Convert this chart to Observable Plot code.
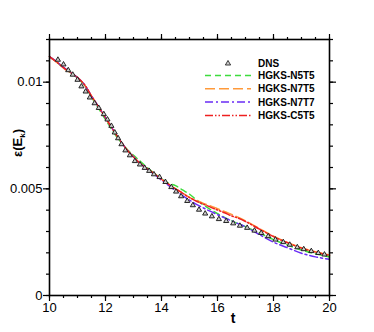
<!DOCTYPE html>
<html><head><meta charset="utf-8">
<script src="https://cdn.jsdelivr.net/npm/d3@7"></script>
<script src="https://cdn.jsdelivr.net/npm/@observablehq/plot@0.6"></script>
<style>
body{margin:0;background:#fff;}
#c{position:relative;width:374px;height:332px;font-family:"Liberation Sans",Arial,sans-serif;}
#c svg{display:block}
</style></head><body><div id="c"></div>
<script>
// DNS reference points
const dnsT = [10.3,10.5,10.67,10.83,11.0,11.14,11.29,11.44,11.61,11.76,11.94,12.07,12.21,12.33,12.45,12.57,12.71,12.87,13.05,13.23,13.4,13.56,13.73,13.93,14.14,14.35,14.52,14.7,14.92,15.12,15.34,15.56,15.8,16.05,16.31,16.56,16.8,17.06,17.32,17.56,17.81,18.07,18.35,18.58,18.85,19.08,19.35,19.6,19.82];
const dnsE = [0.01105,0.01083,0.01056,0.01035,0.01011,0.0098,0.00956,0.00928,0.00901,0.00879,0.0085,0.00825,0.00795,0.00764,0.00737,0.00709,0.0068,0.00657,0.0063,0.00614,0.00598,0.00584,0.00568,0.00555,0.00532,0.00508,0.00487,0.00465,0.00443,0.00423,0.00402,0.00384,0.00371,0.00358,0.00349,0.00338,0.00327,0.00317,0.00304,0.00293,0.00278,0.00262,0.0025,0.00238,0.00226,0.00217,0.00208,0.00199,0.00192];

// HGKS curves sampled at these times
const tGrid = [10,10.25,10.5,10.75,11,11.25,11.5,11.75,12,12.25,12.5,12.75,13,13.25,13.5,13.75,14,14.25,14.5,14.75,15,15.25,15.5,15.75,16,16.25,16.5,16.75,17,17.5,18,18.5,19,19.5,20];
const n5t5 = [0.0112,0.01095,0.01068,0.01045,0.0102,0.00985,0.0093,0.00877,0.00825,0.00772,0.00727,0.00688,0.00657,0.00628,0.00598,0.00572,0.00547,0.00526,0.00515,0.00495,0.00475,0.00448,0.00425,0.00403,0.00384,0.00366,0.0035,0.00336,0.00322,0.00293,0.00262,0.00237,0.00213,0.00196,0.0018];
const n7t5 = [0.0112,0.01094,0.01066,0.01044,0.01022,0.00988,0.00935,0.00885,0.00833,0.00781,0.00731,0.00686,0.0065,0.00618,0.00593,0.0057,0.00545,0.00522,0.005,0.0048,0.0046,0.00445,0.00432,0.0042,0.00407,0.00394,0.0038,0.00366,0.0035,0.00314,0.00278,0.00249,0.00224,0.00205,0.0019];
const n7t7 = [0.0112,0.01097,0.01069,0.01046,0.01022,0.00988,0.00935,0.00885,0.00833,0.00781,0.00731,0.00686,0.0065,0.00618,0.00592,0.00567,0.00541,0.00516,0.00492,0.00468,0.00447,0.00427,0.0041,0.00394,0.00379,0.00364,0.0035,0.00336,0.00322,0.00285,0.0025,0.00224,0.00198,0.00181,0.0017];
const c5t5 = [0.0112,0.01095,0.01068,0.01045,0.01022,0.00988,0.00935,0.00885,0.00833,0.00781,0.00731,0.00686,0.0065,0.00618,0.00593,0.0057,0.00545,0.00522,0.005,0.0048,0.00459,0.00442,0.00428,0.00414,0.00401,0.00388,0.00373,0.00362,0.00347,0.00311,0.00276,0.00247,0.00222,0.00203,0.00188];

const seriesNames = ["HGKS-N5T5","HGKS-N7T5","HGKS-N7T7","HGKS-C5T5"];
const seriesColors = ["#3ddc3d","#ff9a3a","#6a2cf5","#ee2020"];
const seriesDash = ["6,4","10,4","8,3,2,3","8,2,1.5,2,1.5,2"];
const seriesVals = [n5t5,n7t5,n7t7,c5t5];

const xMajor = [10,12,14,16,18,20];
const xMinor = d3.range(10,20.01,0.5);
const yMajor = [0,0.005,0.01];
const yMinor = d3.range(0,0.01201,0.001);

const dns = dnsT.map((t,i)=>({t,e:dnsE[i]}));
const lines = seriesVals.map((vals,k)=>Plot.line(tGrid.map((t,i)=>({t,e:vals[i]})),{
  x:"t",y:"e",stroke:seriesColors[k],strokeWidth:1.5,strokeDasharray:seriesDash[k],curve:"catmull-rom"}));

const fmtY = d => d===0 ? "0" : String(+d.toFixed(3));
const chart = Plot.plot({
  width:374,height:332,
  marginLeft:49,marginRight:45,marginTop:39,marginBottom:37,
  style:{fontFamily:"'Liberation Sans',Arial,sans-serif",fontSize:"13px",color:"#000",background:"#fff"},
  x:{domain:[10,20]},
  y:{domain:[0,0.012]},
  marks:[
    ...lines,
    Plot.dot(dns,{x:"t",y:"e",symbol:"triangle",r:1.9,stroke:"#111",fill:"#ccc",strokeWidth:0.9}),
    Plot.axisX({anchor:"bottom",ticks:xMinor,tickSize:3,text:null,label:null,strokeWidth:1.2}),
    Plot.axisX({anchor:"bottom",ticks:xMajor,tickSize:6,tickPadding:1,tickFormat:d=>String(d),label:null,strokeWidth:1.2}),
    Plot.axisX({anchor:"top",ticks:xMinor,tickSize:3,text:null,label:null,strokeWidth:1.2}),
    Plot.axisX({anchor:"top",ticks:xMajor,tickSize:6,text:null,label:null,strokeWidth:1.2}),
    Plot.axisY({anchor:"left",ticks:yMinor,tickSize:3,text:null,label:null,strokeWidth:1.2}),
    Plot.axisY({anchor:"left",ticks:yMajor,tickSize:6,tickPadding:1,tickFormat:fmtY,label:null,strokeWidth:1.2}),
    Plot.axisY({anchor:"right",ticks:yMinor,tickSize:3,text:null,label:null,strokeWidth:1.2}),
    Plot.axisY({anchor:"right",ticks:yMajor,tickSize:6,text:null,label:null,strokeWidth:1.2}),
    Plot.frame({stroke:"#000",strokeWidth:1.6})
  ]
});
document.getElementById("c").appendChild(chart);

const s = d3.select(chart);
s.append("text").attr("x",233).attr("y",323).style("text-anchor","middle")
 .style("font-weight","bold").style("font-size","14px").attr("fill","#000").text("t");
const yl = s.append("text").attr("transform","translate(22,143) rotate(-90)").style("text-anchor","middle")
 .style("font-weight","bold").style("font-size","13px").attr("fill","#000");
yl.append("tspan").text("ε(E");
yl.append("tspan").style("font-size","8px").attr("dy",3).text("k");
yl.append("tspan").attr("dy",-3).text(")");

// legend
const lg = s.append("g");
lg.append("path").attr("d",d3.symbol(d3.symbolTriangle,12)()).attr("transform","translate(228,63.5)")
  .attr("fill","#ccc").attr("stroke","#111").attr("stroke-width",0.8);
const addText = (y,str)=>lg.append("text").attr("x",258).attr("y",y).style("text-anchor","start")
  .style("font-size","10px").style("font-weight","bold").attr("fill","#000").text(str);
addText(67,"DNS");
seriesNames.forEach((nm,k)=>{
  const yy = 75.5 + k*13.3;
  lg.append("line").attr("x1",205).attr("x2",251).attr("y1",yy).attr("y2",yy)
    .attr("stroke",seriesColors[k]).attr("stroke-width",1.5).attr("stroke-dasharray",seriesDash[k]);
  addText(yy+3.5,nm);
});
</script></body></html>
